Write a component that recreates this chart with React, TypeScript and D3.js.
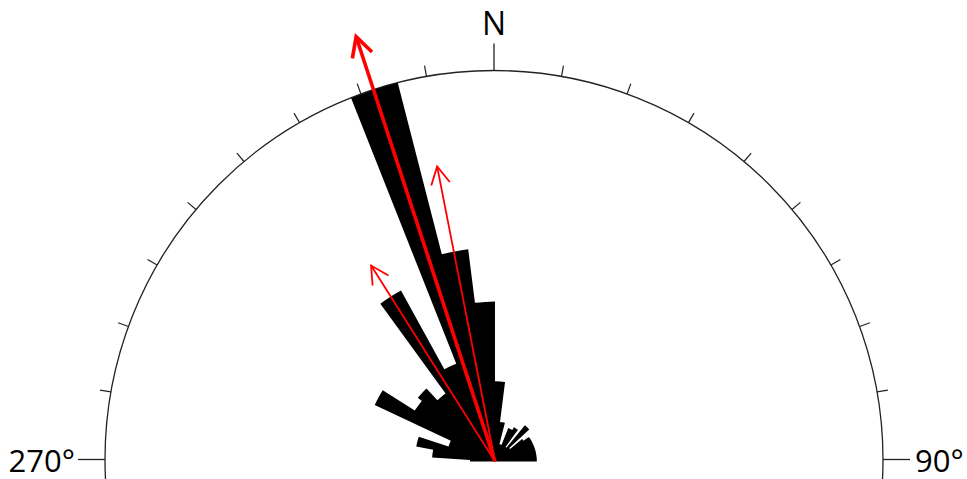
import React from "react";
import * as d3 from "d3";

const W = 967;
const H = 479;

// Rose bins (compass degrees, clockwise from north), 3.6° wide
const binStarts = [
  270, 273.6, 277.2, 280.8, 284.4, 288, 291.6, 295.2, 298.8, 302.4,
  306, 309.6, 313.2, 316.8, 320.4, 324, 327.6, 331.2, 334.8, 338.4,
  342, 345.6, 349.2, 352.8, 356.4, 0, 3.6, 7.2, 10.8, 14.4,
  18, 21.6, 25.2, 28.8, 32.4, 36, 39.6, 43.2, 46.8, 50.4,
  54, 57.6, 61.2, 64.8, 68.4, 72, 75.6, 79.2, 82.8, 86.4,
];
const binWidth = 3.6;
// relative frequency (% of the maximum petal)
const binValues = [
  6.4, 16.1, 16.1, 20.5, 20.5, 12.5, 12.5, 34, 34, 24.3,
  24.3, 25.6, 25.6, 21.5, 21.5, 49.9, 49.9, 26.9, 26.9, 100,
  100, 54.7, 54.7, 40.9, 40.9, 20.5, 20.5, 10.2, 10.2, 4.6,
  4.6, 9.2, 9.2, 10, 10, 4.6, 12, 12, 5, 9,
  10.7, 10.7, 10.7, 10.7, 10.7, 10.7, 10.7, 10.7, 10.7, 10.7,
];

// Mean-direction arrows
const arrowDirs = [341.9, 348.9, 327.7];
const arrowLens = [114.3, 76.9, 59.3];

// Circle ticks
const minorTicks = [280, 290, 300, 310, 320, 330, 340, 350, 10, 20, 30, 40, 50, 60, 70, 80];
const majorTicks = [270, 0, 90];
const axisLabels = ["270°", "N", "90°"];

const rad = (d: number) => (d * Math.PI) / 180;

export default function App() {
  const cx = 494;
  const cy = 459.5;
  const R = 389;
  const ox = 495;
  const oy = 461.5;
  const r = d3.scaleLinear().domain([0, 100]).range([0, 391]);

  const polar = (x0: number, y0: number, deg: number, rr: number) => [
    x0 + rr * Math.sin(rad(deg)),
    y0 - rr * Math.cos(rad(deg)),
  ];

  // single outline for the whole rose (no seams between bins)
  const p = d3.path();
  p.moveTo(0, 0);
  binStarts.forEach((s, i) => {
    const s2 = s < 180 ? s + 360 : s;
    const e2 = Math.min(s2 + binWidth, 450);
    const a0 = rad(s2) - Math.PI / 2;
    const a1 = rad(e2) - Math.PI / 2;
    const rr = r(binValues[i]);
    p.lineTo(rr * Math.cos(a0), rr * Math.sin(a0));
    p.arc(0, 0, rr, a0, a1, false);
  });
  p.lineTo(0, 0);
  p.closePath();

  const arrows = arrowDirs.map((dir, i) => {
    const len = r(arrowLens[i]);
    const [tx, ty] = polar(ox, oy, dir, len);
    const wing = i === 0 ? 22 : 20;
    const back = dir + 180;
    const [w1x, w1y] = polar(tx, ty, back - 28, wing);
    const [w2x, w2y] = polar(tx, ty, back + 28, wing);
    return { tx, ty, w1x, w1y, w2x, w2y, sw: i === 0 ? 3.6 : 1.8 };
  });

  return (
    <svg
      width={W}
      height={H}
      style={{ position: "fixed", left: 0, top: 0, background: "#fff" }}
      fontFamily="'Open Sans', 'DejaVu Sans', sans-serif"
    >
      <rect width={W} height={H} fill="#fff" />
      <circle cx={cx} cy={cy} r={R} fill="none" stroke="#222" strokeWidth={1.3} />
      {minorTicks.map((a) => {
        const [x1, y1] = polar(cx, cy, a, R);
        const [x2, y2] = polar(cx, cy, a, R + 11);
        return <line key={a} x1={x1} y1={y1} x2={x2} y2={y2} stroke="#222" strokeWidth={1.2} />;
      })}
      {majorTicks.map((a) => {
        const [x1, y1] = polar(cx, cy, a, R);
        const [x2, y2] = polar(cx, cy, a, R + 27);
        return <line key={a} x1={x1} y1={y1} x2={x2} y2={y2} stroke="#222" strokeWidth={1.3} />;
      })}
      <text x={cx - R - 30} y={cy + 12} fontSize={31} textAnchor="end" fill="#000">
        {axisLabels[0]}
      </text>
      <text x={cx} y={35} fontSize={32} textAnchor="middle" fill="#000">
        {axisLabels[1]}
      </text>
      <text x={cx + R + 32} y={cy + 12} fontSize={31} textAnchor="start" fill="#000">
        {axisLabels[2]}
      </text>
      <path d={p.toString()} transform={`translate(${ox},${oy})`} fill="#000" />
      {arrows.map((a, i) => (
        <g key={i} stroke="#ff0000" strokeWidth={a.sw} fill="none" strokeLinecap="butt">
          <line x1={ox} y1={oy} x2={a.tx} y2={a.ty} />
          <polyline points={`${a.w1x},${a.w1y} ${a.tx},${a.ty} ${a.w2x},${a.w2y}`} strokeLinejoin="miter" />
        </g>
      ))}
    </svg>
  );
}
